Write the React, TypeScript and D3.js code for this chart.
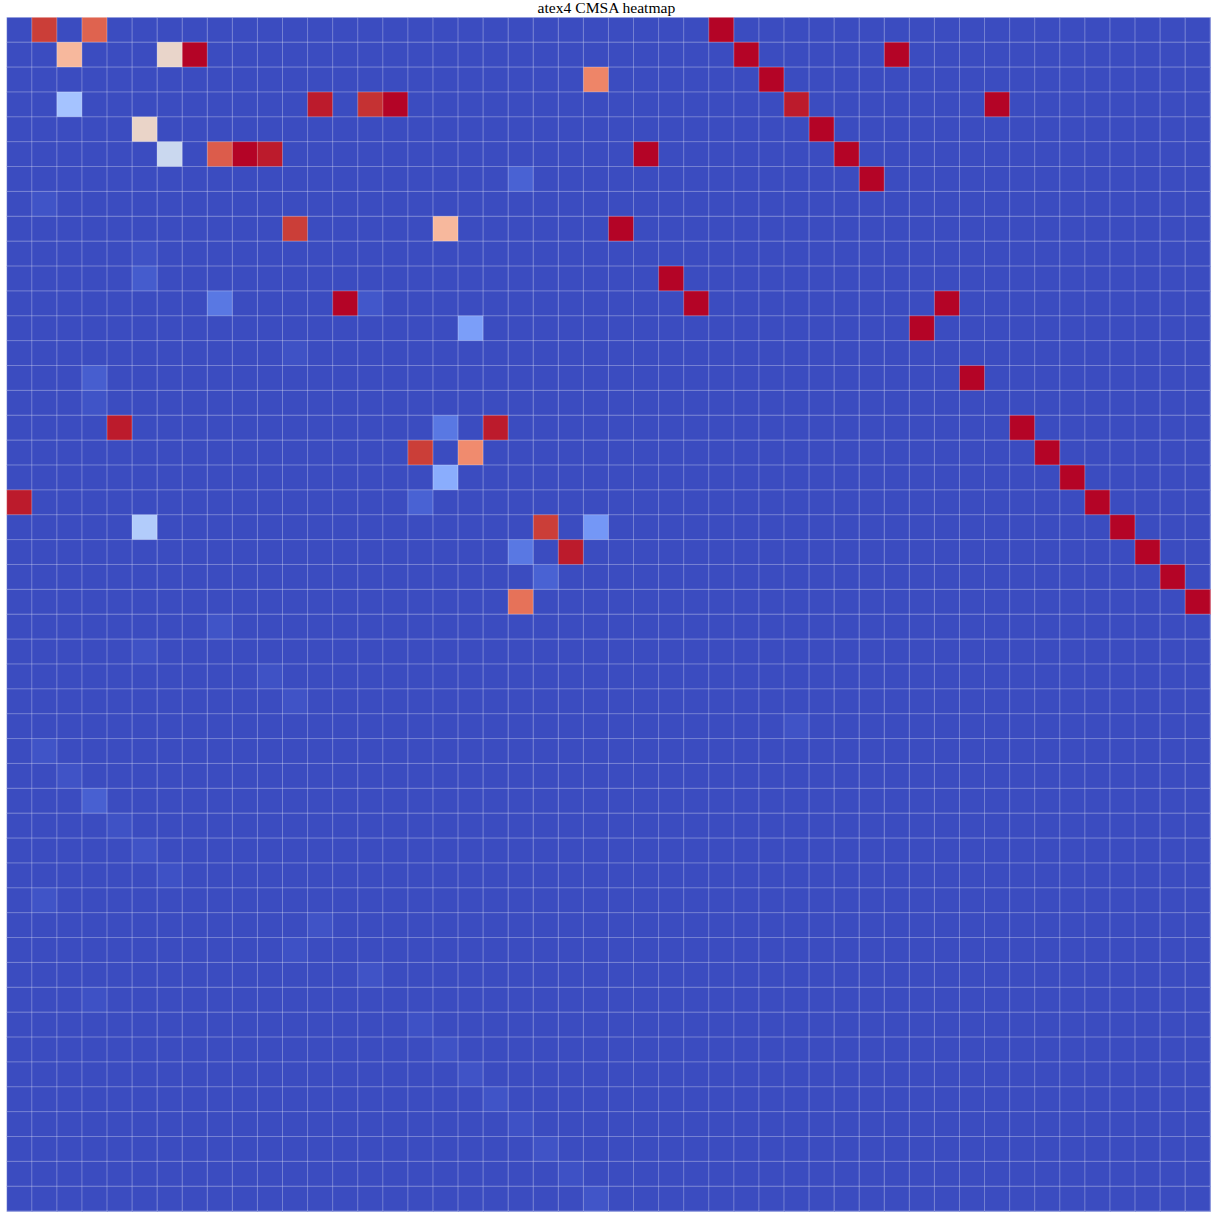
import React, { useEffect, useRef } from 'react';
import * as d3 from 'd3';

// matrix size (rows = cols)
const size = 48;
const chartTitle = 'atex4 CMSA heatmap';

// non-baseline cells, everything else is 0
const hotRows = [
  0, 0, 0,
  1, 1, 1, 1, 1,
  2, 2,
  3, 3, 3, 3, 3, 3,
  4, 4,
  5, 5, 5, 5, 5, 5,
  6, 6,
  7,
  8, 8, 8,
  9,
  10, 10,
  11, 11, 11, 11, 11,
  12, 12,
  13,
  14, 14,
  15,
  16, 16, 16, 16,
  17, 17, 17,
  18, 18,
  19, 19, 19,
  20, 20, 20, 20,
  21, 21, 21,
  22, 22,
  23, 23,
  24, 25, 26, 27, 28, 29, 30, 31, 32, 33, 34, 35, 36, 37, 38, 39,
  40, 41, 42, 43, 44, 45, 46, 47,
];
const hotCols = [
  1, 3, 28,
  2, 6, 7, 29, 35,
  23, 30,
  2, 12, 14, 15, 31, 39,
  5, 32,
  6, 8, 9, 10, 25, 33,
  20, 34,
  1,
  11, 17, 24,
  5,
  5, 26,
  8, 13, 14, 27, 37,
  18, 36,
  11,
  3, 38,
  3,
  4, 17, 19, 40,
  16, 18, 41,
  17, 42,
  0, 16, 43,
  5, 21, 23, 44,
  20, 22, 45,
  21, 46,
  20, 47,
  8, 5, 10, 11, 31, 1, 2, 3, 4, 5, 6, 1, 12, 11, 14, 3,
  16, 17, 18, 19, 20, 21, 22, 23,
];
const hotValues = [
  0.937, 0.87, 1,
  0.665, 0.55, 1, 1, 1,
  0.8, 1,
  0.318, 0.98, 0.955, 1, 0.98, 1,
  0.555, 1,
  0.43, 0.882, 1, 0.98, 1, 1,
  0.05, 1,
  0.018,
  0.937, 0.665, 1,
  0.014,
  0.035, 1,
  0.1, 1, 0.025, 1, 1,
  0.2, 1,
  0.014,
  0.04, 1,
  0.018,
  0.98, 0.1, 0.98, 1,
  0.937, 0.785, 1,
  0.242, 1,
  0.98, 0.05, 1,
  0.357, 0.937, 0.18, 1,
  0.1, 0.98, 1,
  0.05, 1,
  0.84, 1,
  0.018, 0.014, 0.014, 0.016, 0.016, 0.018, 0.016, 0.045, 0.014, 0.016, 0.012, 0.018, 0.016, 0.012, 0.016, 0.012,
  0.012, 0.014, 0.016, 0.018, 0.012, 0.016, 0.012, 0.02,
];

// matplotlib coolwarm control points
const coolwarmStops = [
  [59, 76, 192], [68, 90, 204], [77, 104, 215], [87, 117, 225], [98, 130, 234],
  [108, 142, 241], [119, 154, 247], [130, 165, 251], [141, 176, 254], [152, 185, 255],
  [163, 194, 255], [174, 201, 253], [184, 208, 249], [194, 213, 244], [204, 217, 238],
  [213, 219, 230], [221, 221, 221], [229, 216, 209], [236, 211, 197], [241, 204, 185],
  [245, 196, 173], [247, 187, 160], [247, 177, 148], [247, 166, 135], [244, 154, 123],
  [241, 141, 111], [236, 127, 99], [229, 112, 88], [222, 96, 77], [213, 80, 66],
  [203, 62, 56], [192, 40, 47], [180, 4, 38],
];

const Heatmap = () => {
  const container = useRef(null);

  useEffect(() => {
    document.body.style.margin = '0';
    draw();
  });

  const draw = () => {
    const node = container.current;
    const width = 1218;
    const height = 1218;
    const margins = { t: 17.3, l: 6.7, r: 7.8, b: 6.9 };
    const plotwidth = width - margins.l - margins.r;
    const plotheight = height - margins.t - margins.b;

    // build full matrix from the sparse lists
    const cells = [];
    const lookup = new Map();
    hotRows.forEach((r, i) => lookup.set(r + '-' + hotCols[i], hotValues[i]));
    for (let r = 0; r < size; r++) {
      for (let c = 0; c < size; c++) {
        cells.push({ r, c, v: lookup.get(r + '-' + c) || 0 });
      }
    }

    const idx = d3.range(size);
    const xScale = d3.scaleBand().domain(idx).range([0, plotwidth]).padding(0);
    const yScale = d3.scaleBand().domain(idx).range([0, plotheight]).padding(0);
    const color = d3
      .scaleLinear()
      .domain(coolwarmStops.map((d, i) => i / (coolwarmStops.length - 1)))
      .range(coolwarmStops.map(d => d3.rgb(d[0], d[1], d[2]).toString()))
      .clamp(true);

    const svg = d3
      .select(node)
      .selectAll('svg')
      .data([0])
      .join('svg')
      .attr('width', width)
      .attr('height', height)
      .style('display', 'block');

    svg
      .selectAll('.title')
      .data([0])
      .join('text')
      .attr('class', 'title')
      .attr('x', margins.l + plotwidth / 2 - 2)
      .attr('y', 13)
      .attr('text-anchor', 'middle')
      .style('font-family', '"Liberation Serif", "Times New Roman", serif')
      .style('font-size', '15.6px')
      .attr('fill', '#000')
      .text(chartTitle);

    const g = svg
      .selectAll('.plot-g')
      .data([0])
      .join('g')
      .attr('class', 'plot-g')
      .attr('transform', `translate(${margins.l}, ${margins.t})`);

    g.selectAll('rect.cell')
      .data(cells)
      .join('rect')
      .attr('class', 'cell')
      .attr('x', d => xScale(d.c))
      .attr('y', d => yScale(d.r))
      .attr('width', xScale.bandwidth() + 0.5)
      .attr('height', yScale.bandwidth() + 0.5)
      .attr('fill', d => color(d.v));

    // thin light grid over the cells
    const bounds = d3.range(size + 1);
    g.selectAll('line.vgrid')
      .data(bounds)
      .join('line')
      .attr('class', 'vgrid')
      .attr('x1', d => d * xScale.step())
      .attr('x2', d => d * xScale.step())
      .attr('y1', 0)
      .attr('y2', plotheight)
      .attr('stroke', '#fff')
      .attr('stroke-opacity', 0.3)
      .attr('stroke-width', 1);

    g.selectAll('line.hgrid')
      .data(bounds)
      .join('line')
      .attr('class', 'hgrid')
      .attr('y1', d => d * yScale.step())
      .attr('y2', d => d * yScale.step())
      .attr('x1', 0)
      .attr('x2', plotwidth)
      .attr('stroke', '#fff')
      .attr('stroke-opacity', 0.3)
      .attr('stroke-width', 1);
  };

  return <div ref={container}></div>;
};

export default function App() {
  return <Heatmap />;
}
